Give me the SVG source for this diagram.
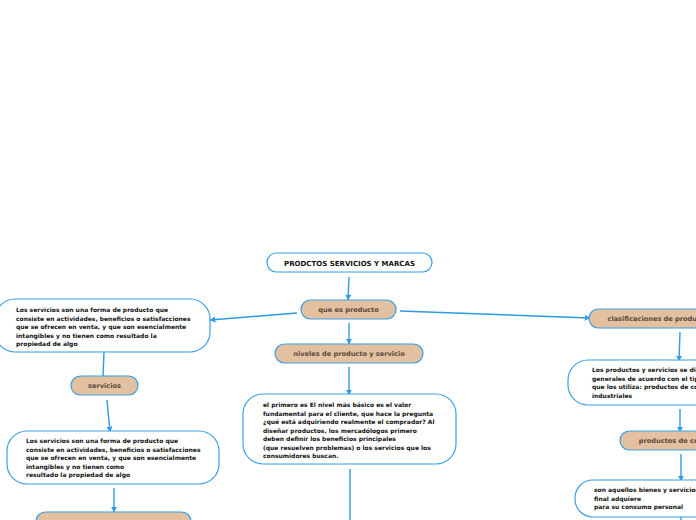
<svg xmlns="http://www.w3.org/2000/svg" width="696" height="520" viewBox="0 0 696 520">
<defs>
<marker id="arr" viewBox="0 0 10 10" refX="9" refY="5" markerWidth="6" markerHeight="6" orient="auto" markerUnits="userSpaceOnUse">
<path d="M0,0 L10,5 L0,10 z" fill="#2e9be6"/>
</marker>
<style>
.w{fill:#fff;stroke:#3a9fe6;stroke-width:1.2}
.t{fill:#e2c0a0;stroke:#3a9fe6;stroke-width:1.2}
.c{fill:none;stroke:#2e9be6;stroke-width:1.4}
.tx{font-family:"DejaVu Sans",Verdana,sans-serif;font-weight:bold;font-size:6px;fill:#111}
.tl{font-family:"DejaVu Sans",Verdana,sans-serif;font-weight:bold;font-size:6.6px;fill:#5a4a3c;text-anchor:middle}
.ti{font-family:"DejaVu Sans",Verdana,sans-serif;font-weight:bold;font-size:7px;fill:#111;text-anchor:middle}
</style>
</defs>
<rect width="696" height="520" fill="#fff"/>
<g id="connectors">
<path class="c" d="M349,277 L348,300" marker-end="url(#arr)"/>
<path class="c" d="M297,313 L210,320" marker-end="url(#arr)"/>
<path class="c" d="M400,311 L590,318" marker-end="url(#arr)"/>
<path class="c" d="M349,323 L349,344" marker-end="url(#arr)"/>
<path class="c" d="M349,367 L349,395" marker-end="url(#arr)"/>
<path class="c" d="M350,469 L350,520"/>
<path class="c" d="M104,352 L103,376"/>
<path class="c" d="M107,400 L110,432" marker-end="url(#arr)"/>
<path class="c" d="M114,488 L114,512" marker-end="url(#arr)"/>
<path class="c" d="M680,332 L679,361" marker-end="url(#arr)"/>
<path class="c" d="M680,409 L680,432" marker-end="url(#arr)"/>
<path class="c" d="M681,454 L681,481" marker-end="url(#arr)"/>
<path class="c" d="M681,517 L681,520"/>
</g>
<g id="n-title">
<rect class="w" x="267" y="253" width="165" height="19" rx="9.5"/>
<text class="ti" x="349.5" y="265.5">PRODCTOS SERVICIOS Y MARCAS</text>
</g>
<g id="n-que">
<rect class="t" x="301" y="300" width="95" height="19" rx="9.5"/>
<text class="tl" x="348.5" y="312">que es producto</text>
</g>
<g id="n-serv-def1">
<rect class="w" x="-5" y="299" width="215" height="53" rx="20"/>
<text class="tx" x="16" y="312">Los servicios son una forma de producto que</text>
<text class="tx" x="16" y="320.5">consiste en actividades, beneficios o satisfacciones</text>
<text class="tx" x="16" y="329">que se ofrecen en venta, y que son esencialmente</text>
<text class="tx" x="16" y="337.5">intangibles y no tienen como resultado la</text>
<text class="tx" x="16" y="346">propiedad de algo</text>
</g>
<g id="n-servicios">
<rect class="t" x="71" y="376" width="67" height="19" rx="9.5"/>
<text class="tl" x="104.5" y="388">servicios</text>
</g>
<g id="n-serv-def2">
<rect class="w" x="7" y="431" width="212" height="53" rx="20"/>
<text class="tx" x="26" y="443">Los servicios son una forma de producto que</text>
<text class="tx" x="26" y="451.5">consiste en actividades, beneficios o satisfacciones</text>
<text class="tx" x="26" y="460">que se ofrecen en venta, y que son esencialmente</text>
<text class="tx" x="26" y="468.5">intangibles y no tienen como</text>
<text class="tx" x="26" y="477">resultado la propiedad de algo</text>
</g>
<g id="n-bottom-left">
<rect class="t" x="36" y="512" width="155" height="19" rx="9.5"/>
</g>
<g id="n-niveles">
<rect class="t" x="275" y="344" width="148" height="19" rx="9.5"/>
<text class="tl" x="349" y="356">niveles de producto y servicio</text>
</g>
<g id="n-niveles-def">
<rect class="w" x="243" y="394" width="213" height="70" rx="20"/>
<text class="tx" x="263" y="407">el primero es El nivel más básico es el valor</text>
<text class="tx" x="263" y="415.5">fundamental para el cliente, que hace la pregunta</text>
<text class="tx" x="263" y="424">¿qué está adquiriendo realmente el comprador? Al</text>
<text class="tx" x="263" y="432.5">diseñar productos, los mercadólogos primero</text>
<text class="tx" x="263" y="441">deben definir los beneficios principales</text>
<text class="tx" x="263" y="449.5">(que resuelven problemas) o los servicios que los</text>
<text class="tx" x="263" y="458">consumidores buscan.</text>
</g>
<g id="n-clasif">
<rect class="t" x="589" y="309" width="142" height="19" rx="9.5"/>
<text class="tl" x="660" y="321">clasificaciones de productos</text>
</g>
<g id="n-clasif-def">
<rect class="w" x="568" y="360" width="230" height="45" rx="20"/>
<text class="tx" x="592" y="372">Los productos y servicios se dividen en dos clases</text>
<text class="tx" x="592" y="380.5">generales de acuerdo con el tipo de consumidor</text>
<text class="tx" x="592" y="389">que los utiliza: productos de consumo y productos</text>
<text class="tx" x="592" y="397.5">industriales</text>
</g>
<g id="n-consumo">
<rect class="t" x="620" y="431" width="122" height="19" rx="9.5"/>
<text class="tl" x="681" y="443">productos de consumo</text>
</g>
<g id="n-consumo-def">
<rect class="w" x="575" y="480" width="220" height="37" rx="18"/>
<text class="tx" x="594" y="492">son aquellos bienes y servicios que el consumidor</text>
<text class="tx" x="594" y="500.5">final adquiere</text>
<text class="tx" x="594" y="509">para su consumo personal</text>
</g>
</svg>
